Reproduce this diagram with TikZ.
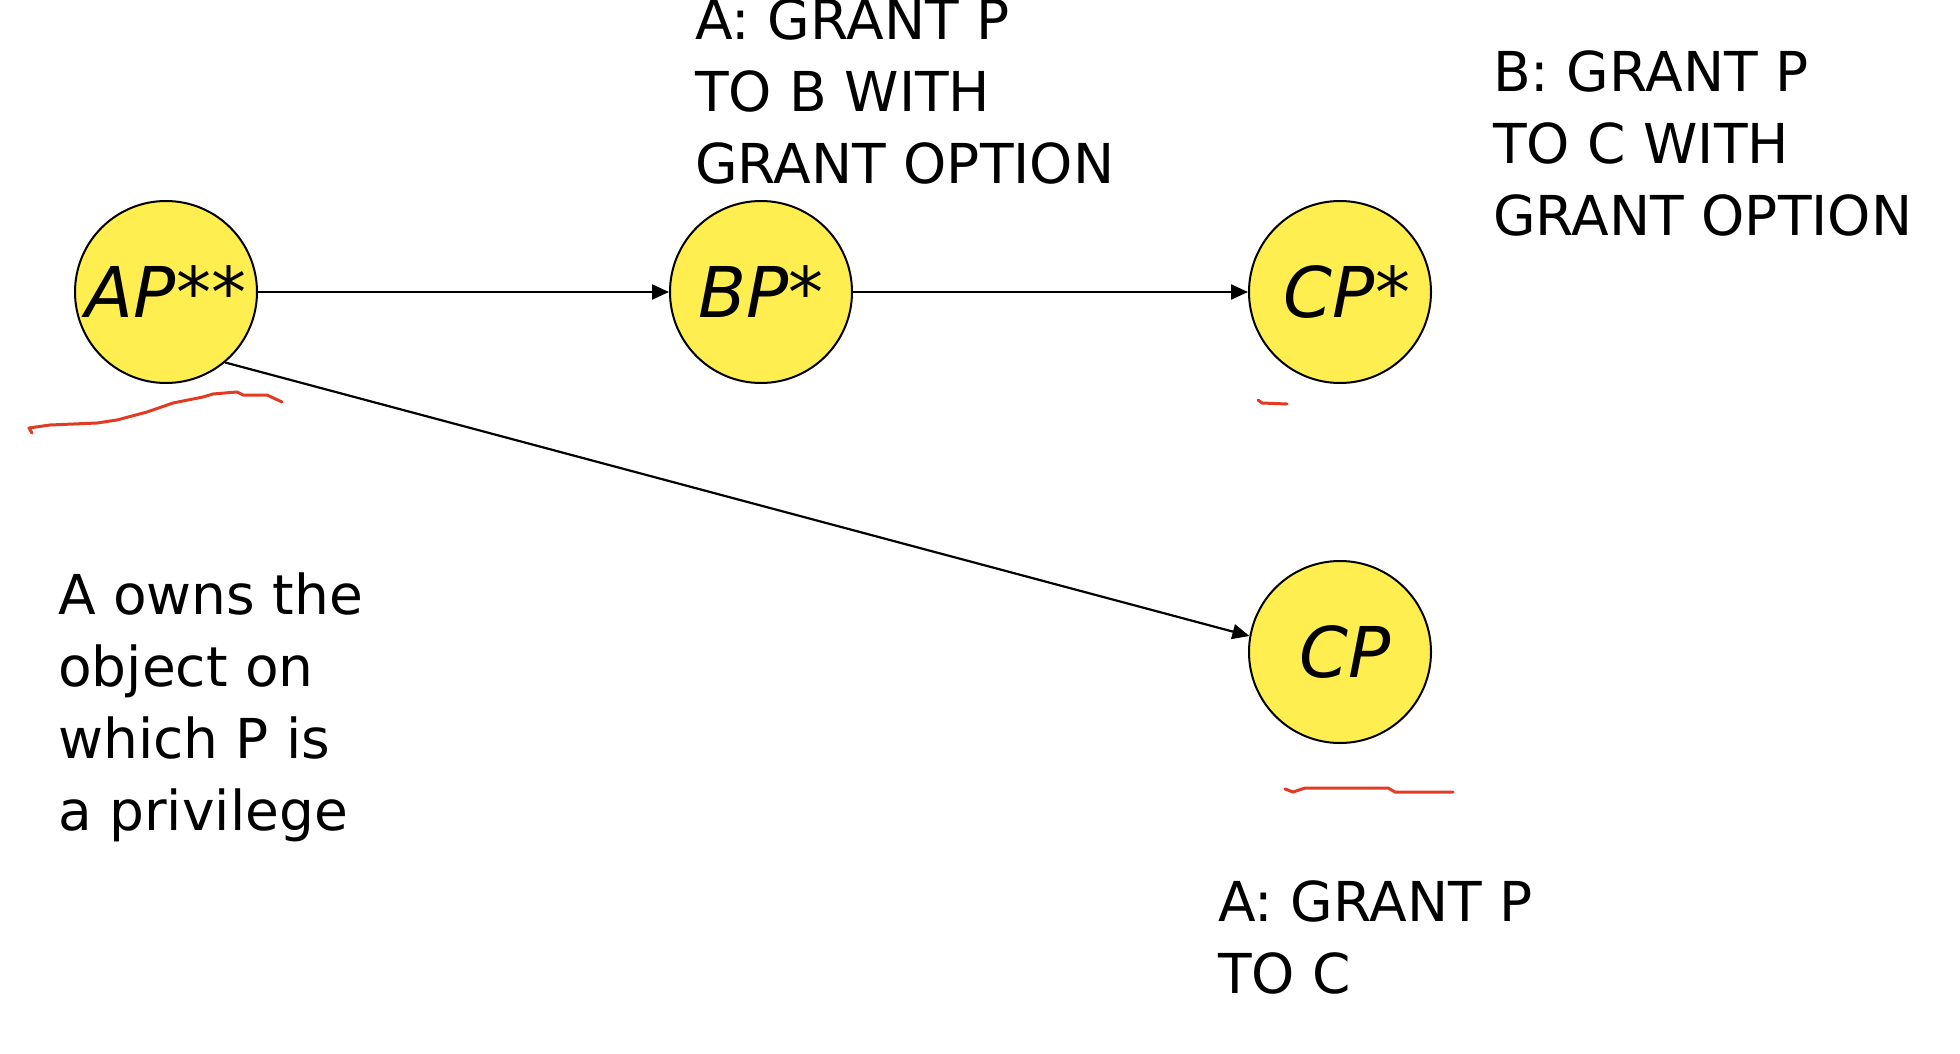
\documentclass[tikz,border=0pt]{standalone}
\usepackage{fontspec}
\setmainfont{DejaVu Sans}
\usetikzlibrary{arrows.meta}
\definecolor{circyellow}{RGB}{255,238,80}
\definecolor{penred}{RGB}{225,60,35}
\tikzset{
  pnode/.style={circle, draw=black, line width=2pt, fill=circyellow, minimum size=182pt, inner sep=0pt,
    font=\fontsize{70}{80}\selectfont\itshape},
  lbl/.style={anchor=base west, inner sep=0pt, align=left, font=\fontsize{55}{71.7}\selectfont},
  conn/.style={line width=2.2pt, -{Triangle[length=17pt,width=15pt]}},
  pen/.style={penred, line width=3pt, line cap=round, line join=round}
}
\begin{document}
\begin{tikzpicture}[x=1pt,y=-1pt]
\useasboundingbox (0,0) rectangle (1960,1054);
\fill[white] (0,0) rectangle (1960,1054);
\node[pnode] (A) at (166,292) {AP**};
\node[pnode] (B) at (761,292) {BP*};
\node[pnode] (C1) at (1340,292) {\hspace*{14pt}CP*};
\node[pnode] (C2) at (1340,652) {\hspace*{10pt}CP};
\draw[conn] (A.east) -- (B.west);
\draw[conn] (B.east) -- (C1.west);
\draw[conn] (A.-50) -- (C2.170);
\node[lbl] (t1) at (695,183) {A: GRANT P\\TO B WITH\\GRANT OPTION};
\node[lbl] (t2) at (1493,235) {B: GRANT P\\TO C WITH\\GRANT OPTION};
\node[lbl] (t3) at (58,830) {A owns the\\object on\\which P is\\a privilege};
\node[lbl] (t4) at (1218,993) {A: GRANT P\\TO C};
\draw[pen] (32,433) -- (29,428) -- (50,425) -- (97,423) -- (117,420) -- (147,412) -- (173,403) -- (203,397) -- (213,394) -- (237,392) -- (243,395) -- (267,395) -- (282,402);
\draw[pen] (1258,400) -- (1262,403) -- (1287,404);
\draw[pen] (1285,789) -- (1293,792) -- (1305,788) -- (1388,788) -- (1395,792) -- (1453,792);
\end{tikzpicture}
\end{document}
